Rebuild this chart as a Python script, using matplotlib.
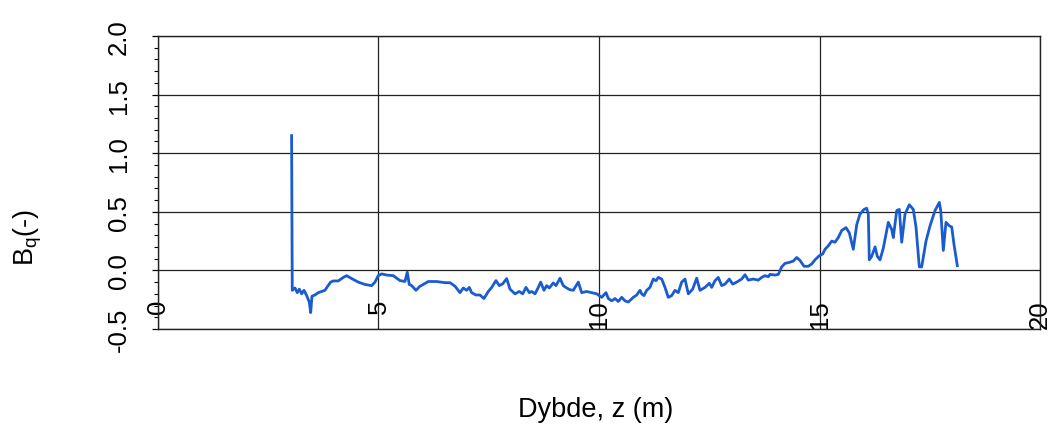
import matplotlib
matplotlib.use("Agg")
import matplotlib.pyplot as plt
import numpy as np
from matplotlib.ticker import MultipleLocator

plt.rcParams["font.family"] = ["Liberation Sans", "DejaVu Sans"]

# depth (m) and pore pressure ratio Bq (-)
depth = [
    3.03, 3.045, 3.107, 3.159, 3.204, 3.259, 3.311, 3.372, 3.431, 3.463, 3.492,
    3.560, 3.635, 3.712, 3.787, 3.839, 3.916, 3.975, 4.088, 4.202, 4.279,
    4.392, 4.542, 4.694, 4.846, 4.921, 4.995, 5.073, 5.186, 5.336, 5.488,
    5.601, 5.653, 5.698, 5.753, 5.850, 5.941, 6.016, 6.129, 6.320, 6.508,
    6.621, 6.735, 6.848, 6.923, 7.000, 7.059, 7.113, 7.211, 7.302, 7.392,
    7.490, 7.567, 7.664, 7.739, 7.816, 7.907, 7.982, 8.095, 8.193, 8.270,
    8.345, 8.420, 8.474, 8.549, 8.624, 8.678, 8.753, 8.814, 8.873, 8.964,
    9.025, 9.116, 9.190, 9.268, 9.342, 9.417, 9.531, 9.608, 9.721, 9.834,
    9.948, 10.061, 10.159, 10.211, 10.288, 10.363, 10.438, 10.515, 10.590,
    10.664, 10.778, 10.855, 10.930, 10.968, 11.020, 11.082, 11.156, 11.231,
    11.293, 11.345, 11.422, 11.497, 11.571, 11.649, 11.723, 11.798, 11.875,
    11.950, 12.025, 12.125, 12.215, 12.290, 12.404, 12.501, 12.556, 12.630,
    12.705, 12.782, 12.857, 12.955, 13.032, 13.122, 13.236, 13.311, 13.385,
    13.499, 13.612, 13.689, 13.764, 13.839, 13.878, 13.991, 14.066, 14.143,
    14.218, 14.331, 14.406, 14.483, 14.558, 14.649, 14.746, 14.823, 14.898,
    14.995, 15.073, 15.125, 15.200, 15.277, 15.351, 15.426, 15.503, 15.601,
    15.676, 15.766, 15.844, 15.918, 16.009, 16.070, 16.107, 16.129, 16.184,
    16.259, 16.311, 16.372, 16.447, 16.560, 16.637, 16.673, 16.751, 16.810,
    16.864, 16.939, 17.036, 17.127, 17.188, 17.263, 17.317, 17.415, 17.506,
    17.619, 17.717, 17.749, 17.807, 17.868, 17.943, 17.998, 18.050, 18.125,
]
bq = [
    1.15, -0.17, -0.15, -0.19, -0.16, -0.20, -0.17, -0.215, -0.27, -0.36, -0.22,
    -0.21, -0.19, -0.18, -0.17, -0.14, -0.10, -0.09, -0.09, -0.06, -0.045,
    -0.07, -0.10, -0.12, -0.13, -0.10, -0.045, -0.03, -0.04, -0.045, -0.087,
    -0.095, -0.015, -0.12, -0.13, -0.17, -0.135, -0.12, -0.095, -0.095, -0.105,
    -0.105, -0.135, -0.19, -0.15, -0.17, -0.145, -0.19, -0.21, -0.21, -0.24,
    -0.18, -0.145, -0.087, -0.13, -0.115, -0.07, -0.16, -0.20, -0.18, -0.20,
    -0.145, -0.19, -0.18, -0.20, -0.145, -0.10, -0.17, -0.13, -0.15, -0.107,
    -0.13, -0.067, -0.13, -0.15, -0.165, -0.17, -0.10, -0.19, -0.18, -0.19,
    -0.20, -0.23, -0.19, -0.24, -0.26, -0.24, -0.265, -0.23, -0.26,
    -0.27, -0.23, -0.21, -0.17, -0.20, -0.215, -0.17, -0.145, -0.074,
    -0.088, -0.06, -0.074, -0.145, -0.23, -0.215, -0.17, -0.19, -0.10,
    -0.074, -0.20, -0.16, -0.066, -0.17, -0.145, -0.11, -0.145, -0.088,
    -0.06, -0.13, -0.117, -0.074, -0.117, -0.10, -0.074, -0.037, -0.083,
    -0.074, -0.083, -0.06, -0.045, -0.054, -0.034, -0.04, -0.034, 0.03,
    0.06, 0.07, 0.08, 0.11, 0.085, 0.035, 0.035, 0.055, 0.09,
    0.125, 0.14, 0.18, 0.21, 0.25, 0.24, 0.28, 0.34, 0.365,
    0.32, 0.18, 0.39, 0.48, 0.52, 0.53, 0.48, 0.09, 0.12,
    0.20, 0.12, 0.09, 0.19, 0.41, 0.35, 0.28, 0.51, 0.52,
    0.24, 0.48, 0.56, 0.52, 0.37, 0.03, 0.03, 0.25, 0.38,
    0.51, 0.58, 0.51, 0.17, 0.41, 0.38, 0.37, 0.22, 0.04,
]

x_ticks = [0, 5, 10, 15, 20]
y_ticks = [-0.5, 0.0, 0.5, 1.0, 1.5, 2.0]

fig = plt.figure(figsize=(10.58, 4.35), dpi=100)
ax = fig.add_axes([0.1493, 0.2414, 0.8337, 0.6736])

ax.plot(depth, bq, color="#1a5bd0", linewidth=2.0)

ax.set_xlim(0, 20)
ax.set_ylim(-0.5, 2.0)
ax.set_xticks(x_ticks)
ax.set_xticklabels([str(t) for t in x_ticks])
ax.set_yticks(y_ticks)
ax.set_yticklabels([f"{t:.1f}" for t in y_ticks])
ax.yaxis.set_minor_locator(MultipleLocator(0.1))

ax.grid(True, which="major", color="#222222", linewidth=0.9)
for s in ax.spines.values():
    s.set_color("#222222")
    s.set_linewidth(1.0)

# x labels sit inside the plot, rotated
ax.tick_params(axis="x", length=0, pad=-21.6, labelrotation=90, labelsize=18.5)
ax.tick_params(axis="y", which="major", length=4.5, width=0.9, pad=15,
               labelrotation=90, labelsize=18.5, direction="out")
ax.tick_params(axis="y", which="minor", length=3, width=0.8, direction="out")
for lbl in ax.get_yticklabels():
    lbl.set_verticalalignment("center")

fig.text(0.026, 0.455, r"B$_\mathregular{q}$(-)", rotation=90, fontsize=19.5,
         ha="center", va="center")
fig.text(0.563, 0.057, "Dybde, z (m)", fontsize=19.5, ha="center", va="center")

fig.savefig("out.png", dpi=100)
